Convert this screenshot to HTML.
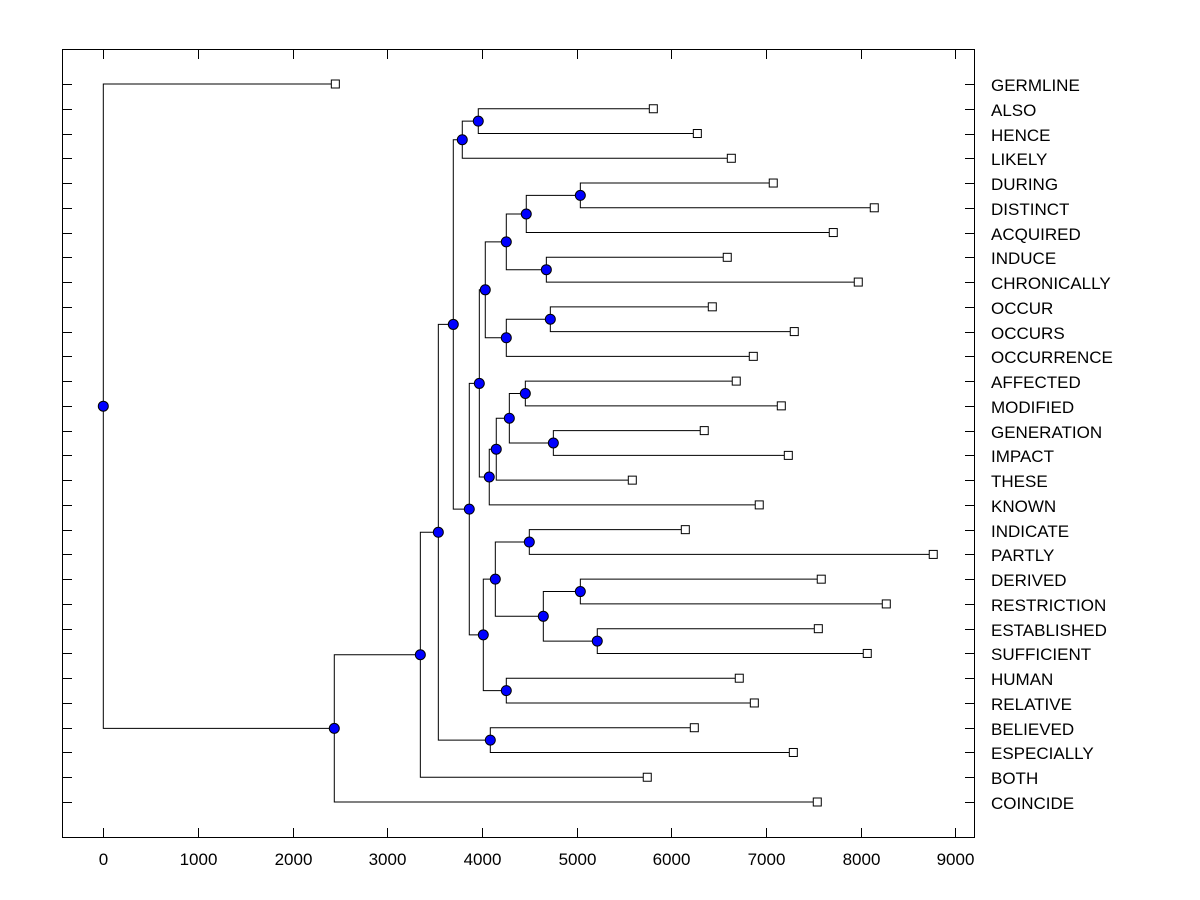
<!DOCTYPE html>
<html><head><meta charset="utf-8"><style>
html,body{margin:0;padding:0;background:#fff;}
svg{display:block;font-family:"Liberation Sans",Arial,sans-serif;}
</style></head><body>
<svg id="chart" width="1200" height="900">
<rect x="0" y="0" width="1200" height="900" fill="#fff"/>
<rect x="62.5" y="49.5" width="912" height="788" fill="none" stroke="#000" stroke-width="1"/>
<g id="ticks"></g><g id="links"></g><g id="marks"></g><g id="labels"></g>
</svg>
<script>
const leafNames = ["GERMLINE","ALSO","HENCE","LIKELY","DURING","DISTINCT","ACQUIRED","INDUCE","CHRONICALLY","OCCUR","OCCURS","OCCURRENCE","AFFECTED","MODIFIED","GENERATION","IMPACT","THESE","KNOWN","INDICATE","PARTLY","DERIVED","RESTRICTION","ESTABLISHED","SUFFICIENT","HUMAN","RELATIVE","BELIEVED","ESPECIALLY","BOTH","COINCIDE"];
const leafHeights = [2451,5810,6275,6634,7077,8144,7711,6591,7975,6433,7299,6866,6686,7162,6348,7236,5588,6929,6148,8767,7584,8271,7553,8070,6718,6877,6243,7289,5746,7542];
// merges: [childA, childB, height]; leaves are "L<i>", nodes are "N<i>"
const mergeA = ["L1","N0","L4","N2","L7","N3","L9","N6","N5","L12","L14","N9","N11","N12","N8","L18","L20","L22","N16","N15","L24","N19","N14","N22","L26","N23","N25","N26","L0"];
const mergeB = ["L2","L3","L5","L6","L8","N4","L10","L11","N7","L13","L15","N10","L16","L17","N13","L19","L21","L23","N17","N18","L25","N20","N21","N1","L27","N24","L28","L29","N27"];
const mergeH = [3961,3792,5039,4468,4680,4257,4722,4257,4035,4458,4754,4289,4151,4077,3972,4500,5039,5218,4648,4141,4257,4014,3866,3697,4088,3539,3349,2440,0];
const xTicks = [0,1000,2000,3000,4000,5000,6000,7000,8000,9000];

const NS="http://www.w3.org/2000/svg";
const xs = v => 103.3 + v*(852/9000);
const ys = i => 84 + i*(718/29);
function mk(tag, attrs, parent){const e=document.createElementNS(NS,tag);for(const k in attrs)e.setAttribute(k,attrs[k]);document.getElementById(parent).appendChild(e);return e;}

leafNames.forEach((n,i)=>{
  const y=Math.round(ys(i))+0.5;
  const t1=mk('line',{x1:62,x2:72,y1:y,y2:y,stroke:'#000'},'ticks');
  
  
  const t2=mk('line',{x1:965,x2:975,y1:y,y2:y,stroke:'#000'},'ticks');
  
  
  const lb=mk('text',{x:991,y:y+6.5,'font-size':17,fill:'#000'},'labels');
  lb.textContent=n;
  
  
});
xTicks.forEach(v=>{
  const x=Math.round(xs(v))+0.5;
  const a=mk('line',{x1:x,x2:x,y1:828,y2:838,stroke:'#000'},'ticks');
  
  
  const b=mk('line',{x1:x,x2:x,y1:49,y2:59,stroke:'#000'},'ticks');
  
  
  const t=mk('text',{x:x,y:865,'font-size':17,'text-anchor':'middle',fill:'#000'},'labels');
  t.textContent=v;
  
  
});

const pos={};
leafNames.forEach((n,i)=>{pos['L'+i]={x:xs(leafHeights[i]),y:ys(i)};});
mergeH.forEach((h,k)=>{
  const a=pos[mergeA[k]], b=pos[mergeB[k]];
  const x=xs(h), y=(a.y+b.y)/2;
  pos['N'+k]={x:x,y:y};
  const p=mk('path',{d:`M${a.x} ${a.y}H${x}V${b.y}H${b.x}`,fill:'none',stroke:'#000','stroke-width':1},'links');
  
  
});
leafNames.forEach((n,i)=>{
  const p=pos['L'+i];
  const r=mk('rect',{x:p.x-4,y:p.y-4,width:8,height:8,fill:'#fff',stroke:'#000'},'marks');
  
  
});
mergeH.forEach((h,k)=>{
  const p=pos['N'+k];
  const c=mk('circle',{cx:p.x,cy:p.y,r:5,fill:'#0000ff',stroke:'#000','stroke-width':1},'marks');
  
  
});
</script>
</body></html>
